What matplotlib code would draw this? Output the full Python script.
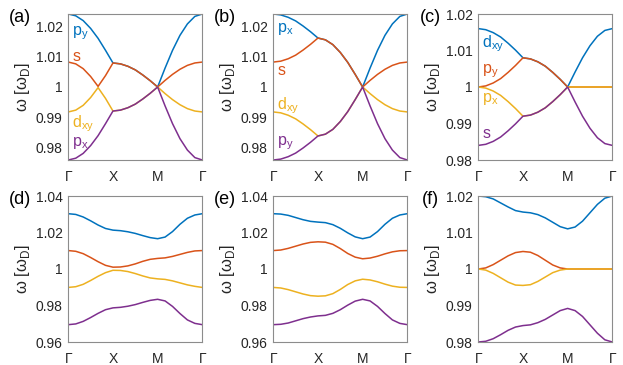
import numpy as np
import matplotlib
matplotlib.use("Agg")
import matplotlib.pyplot as plt

plt.rcParams["font.family"] = ["Liberation Sans", "DejaVu Sans"]
plt.rcParams["mathtext.fontset"] = "custom"
plt.rcParams["mathtext.rm"] = "Liberation Sans"

# ── data: 19 samples along Γ-X-M-Γ (6 steps per segment) ─────────────────
k_labels = ["Γ", "X", "M", "Γ"]

a_blue = [1.0243, 1.0237, 1.0221, 1.0195, 1.0162, 1.0122, 1.0080, 1.0077, 1.0069, 1.0057,
          1.0040, 1.0021, 1.0000, 1.0063, 1.0122, 1.0172, 1.0210, 1.0235, 1.0243]
a_orange = [1.0083, 1.0077, 1.0061, 1.0035, 1.0002, 1.0038, 1.0080, 1.0077, 1.0069, 1.0057,
            1.0040, 1.0021, 1.0000, 1.0022, 1.0042, 1.0059, 1.0072, 1.0080, 1.0083]
a_yellow = [0.9917, 0.9923, 0.9939, 0.9965, 0.9998, 0.9962, 0.9920, 0.9923, 0.9931, 0.9943,
            0.9960, 0.9979, 1.0000, 0.9978, 0.9958, 0.9941, 0.9928, 0.9920, 0.9917]
a_purple = [0.9757, 0.9763, 0.9779, 0.9805, 0.9838, 0.9878, 0.9920, 0.9923, 0.9931, 0.9943,
            0.9960, 0.9979, 1.0000, 0.9937, 0.9878, 0.9828, 0.9790, 0.9765, 0.9757]

b_blue = [1.0243, 1.0240, 1.0232, 1.0220, 1.0203, 1.0184, 1.0163, 1.0157, 1.0141, 1.0115,
          1.0082, 1.0042, 1.0000, 1.0063, 1.0122, 1.0172, 1.0210, 1.0235, 1.0243]
b_orange = [1.0083, 1.0086, 1.0094, 1.0106, 1.0123, 1.0142, 1.0163, 1.0157, 1.0141, 1.0115,
            1.0082, 1.0042, 1.0000, 1.0022, 1.0042, 1.0059, 1.0072, 1.0080, 1.0083]
b_yellow = [0.9917, 0.9914, 0.9906, 0.9894, 0.9877, 0.9858, 0.9837, 0.9843, 0.9859, 0.9885,
            0.9918, 0.9958, 1.0000, 0.9978, 0.9958, 0.9941, 0.9928, 0.9920, 0.9917]
b_purple = [0.9757, 0.9760, 0.9768, 0.9780, 0.9797, 0.9816, 0.9837, 0.9843, 0.9859, 0.9885,
            0.9918, 0.9958, 1.0000, 0.9937, 0.9878, 0.9828, 0.9790, 0.9765, 0.9757]

c_blue = [1.0160, 1.0157, 1.0149, 1.0137, 1.0120, 1.0101, 1.0080, 1.0077, 1.0069, 1.0057,
          1.0040, 1.0021, 1.0000, 1.0041, 1.0080, 1.0113, 1.0139, 1.0155, 1.0160]
c_orange = [1.0000, 1.0003, 1.0011, 1.0023, 1.0040, 1.0059, 1.0080, 1.0077, 1.0069, 1.0057,
            1.0040, 1.0021, 1.0000, 1.0000, 1.0000, 1.0000, 1.0000, 1.0000, 1.0000]
c_yellow = [1.0000, 0.9997, 0.9989, 0.9977, 0.9960, 0.9941, 0.9920, 0.9923, 0.9931, 0.9943,
            0.9960, 0.9979, 1.0000, 1.0000, 1.0000, 1.0000, 1.0000, 1.0000, 1.0000]
c_purple = [0.9840, 0.9843, 0.9851, 0.9863, 0.9880, 0.9899, 0.9920, 0.9923, 0.9931, 0.9943,
            0.9960, 0.9979, 1.0000, 0.9959, 0.9920, 0.9887, 0.9861, 0.9845, 0.9840]

d_blue = [1.0303, 1.0299, 1.0285, 1.0264, 1.0241, 1.0222, 1.0213, 1.0210, 1.0204, 1.0195,
          1.0183, 1.0172, 1.0166, 1.0175, 1.0205, 1.0245, 1.0278, 1.0296, 1.0303]
d_orange = [1.0101, 1.0097, 1.0084, 1.0063, 1.0040, 1.0020, 1.0010, 1.0011, 1.0017, 1.0028,
            1.0042, 1.0053, 1.0058, 1.0061, 1.0069, 1.0080, 1.0091, 1.0099, 1.0101]
d_yellow = [0.9899, 0.9903, 0.9916, 0.9937, 0.9960, 0.9980, 0.9993, 0.9992, 0.9986, 0.9975,
            0.9962, 0.9951, 0.9946, 0.9943, 0.9935, 0.9924, 0.9913, 0.9905, 0.9899]
d_purple = [0.9695, 0.9699, 0.9713, 0.9734, 0.9757, 0.9777, 0.9787, 0.9790, 0.9796, 0.9805,
            0.9817, 0.9828, 0.9834, 0.9825, 0.9795, 0.9756, 0.9721, 0.9702, 0.9695]

e_blue = [1.0303, 1.0301, 1.0294, 1.0282, 1.0270, 1.0261, 1.0257, 1.0254, 1.0243, 1.0223,
          1.0198, 1.0176, 1.0166, 1.0175, 1.0205, 1.0245, 1.0278, 1.0296, 1.0303]
e_orange = [1.0101, 1.0104, 1.0113, 1.0125, 1.0137, 1.0146, 1.0149, 1.0147, 1.0135, 1.0112,
            1.0085, 1.0065, 1.0056, 1.0060, 1.0070, 1.0083, 1.0094, 1.0100, 1.0101]
e_yellow = [0.9899, 0.9896, 0.9887, 0.9875, 0.9863, 0.9854, 0.9851, 0.9853, 0.9865, 0.9888,
            0.9915, 0.9935, 0.9944, 0.9940, 0.9930, 0.9917, 0.9906, 0.9900, 0.9899]
e_purple = [0.9695, 0.9697, 0.9704, 0.9716, 0.9728, 0.9737, 0.9743, 0.9746, 0.9757, 0.9777,
            0.9802, 0.9824, 0.9834, 0.9825, 0.9795, 0.9756, 0.9721, 0.9702, 0.9695]

f_blue = [1.0200, 1.0198, 1.0192, 1.0181, 1.0170, 1.0160, 1.0156, 1.0154, 1.0149, 1.0140,
          1.0128, 1.0116, 1.0110, 1.0115, 1.0131, 1.0154, 1.0177, 1.0194, 1.0200]
f_orange = [1.0000, 1.0003, 1.0012, 1.0024, 1.0036, 1.0045, 1.0048, 1.0046, 1.0037, 1.0024,
            1.0011, 1.0003, 1.0000, 1.0000, 1.0000, 1.0000, 1.0000, 1.0000, 1.0000]
f_yellow = [1.0000, 0.9997, 0.9988, 0.9976, 0.9964, 0.9956, 0.9955, 0.9957, 0.9966, 0.9978,
            0.9990, 0.9997, 1.0000, 1.0000, 1.0000, 1.0000, 1.0000, 1.0000, 1.0000]
f_purple = [0.9800, 0.9802, 0.9809, 0.9820, 0.9832, 0.9841, 0.9845, 0.9847, 0.9853, 0.9862,
            0.9874, 0.9886, 0.9892, 0.9886, 0.9870, 0.9847, 0.9824, 0.9806, 0.9800]

ylims = {"a": (0.9757, 1.0243), "b": (0.9757, 1.0243), "c": (0.98, 1.02),
         "d": (0.96, 1.04), "e": (0.96, 1.04), "f": (0.98, 1.02)}
yticks_narrow = [0.98, 0.99, 1.0, 1.01, 1.02]
yticks_wide = [0.96, 0.98, 1.0, 1.02, 1.04]

# orbital labels: (text, colour index, axes-fraction y)
labels_a = [("p$_\\mathregular{y}$", 0, 0.87), ("s", 1, 0.712),
            ("d$_\\mathregular{xy}$", 2, 0.25), ("p$_\\mathregular{x}$", 3, 0.115)]
labels_b = [("p$_\\mathregular{x}$", 0, 0.90), ("s", 1, 0.616),
            ("d$_\\mathregular{xy}$", 2, 0.37), ("p$_\\mathregular{y}$", 3, 0.118)]
labels_c = [("d$_\\mathregular{xy}$", 0, 0.80), ("p$_\\mathregular{y}$", 1, 0.605),
            ("p$_\\mathregular{x}$", 2, 0.42), ("s", 3, 0.183)]

colors = ["#0072BD", "#D95319", "#EDB120", "#7E2F8E"]

panels = [
    ("a", [a_blue, a_orange, a_yellow, a_purple], yticks_narrow, labels_a),
    ("b", [b_blue, b_orange, b_yellow, b_purple], yticks_narrow, labels_b),
    ("c", [c_blue, c_orange, c_yellow, c_purple], yticks_narrow, labels_c),
    ("d", [d_blue, d_orange, d_yellow, d_purple], yticks_wide, []),
    ("e", [e_blue, e_orange, e_yellow, e_purple], yticks_wide, []),
    ("f", [f_blue, f_orange, f_yellow, f_purple], yticks_narrow, []),
]

W, H = 623, 365
fig = plt.figure(figsize=(W / 100, H / 100), dpi=100)

lefts = [68.3, 273.3, 478.3]
tops = [14, 196]
aw, ah = 134, 146

for i, (tag, bands, yt, labs) in enumerate(panels):
    row, col = divmod(i, 3)
    x0, y0 = lefts[col], tops[row]
    ax = fig.add_axes([x0 / W, 1 - (y0 + ah) / H, aw / W, ah / H])
    x = np.arange(len(bands[0]))
    for b, cl in zip(bands, colors):
        ax.plot(x, b, color=cl, lw=1.1, solid_capstyle="butt")
    ax.set_xlim(0, len(x) - 1)
    ax.set_ylim(*ylims[tag])
    ax.set_xticks([0, 6, 12, 18])
    ax.set_xticklabels(k_labels)
    ax.set_yticks(yt)
    ax.set_yticklabels(["%g" % v for v in yt])
    ax.tick_params(length=0, labelsize=10, colors="#262626")
    ax.tick_params(axis="x", pad=7)
    ax.tick_params(axis="y", pad=4)
    for s in ax.spines.values():
        s.set_color("#8c8c8c")
        s.set_linewidth(0.8)
    ax.set_ylabel("ω [ω$_\\mathregular{D}$]", fontsize=12, labelpad=3, color="#262626")

    for txt, ci, fy in labs:
        ax.text(0.03, fy, txt, transform=ax.transAxes, color=colors[ci],
                fontsize=11.5, ha="left", va="center")

    fig.text((x0 - 48) / W, 1 - (y0 + 3) / H, "(%s)" % tag, fontsize=13,
             ha="center", va="center", color="black")

fig.savefig("out.png", dpi=100)
